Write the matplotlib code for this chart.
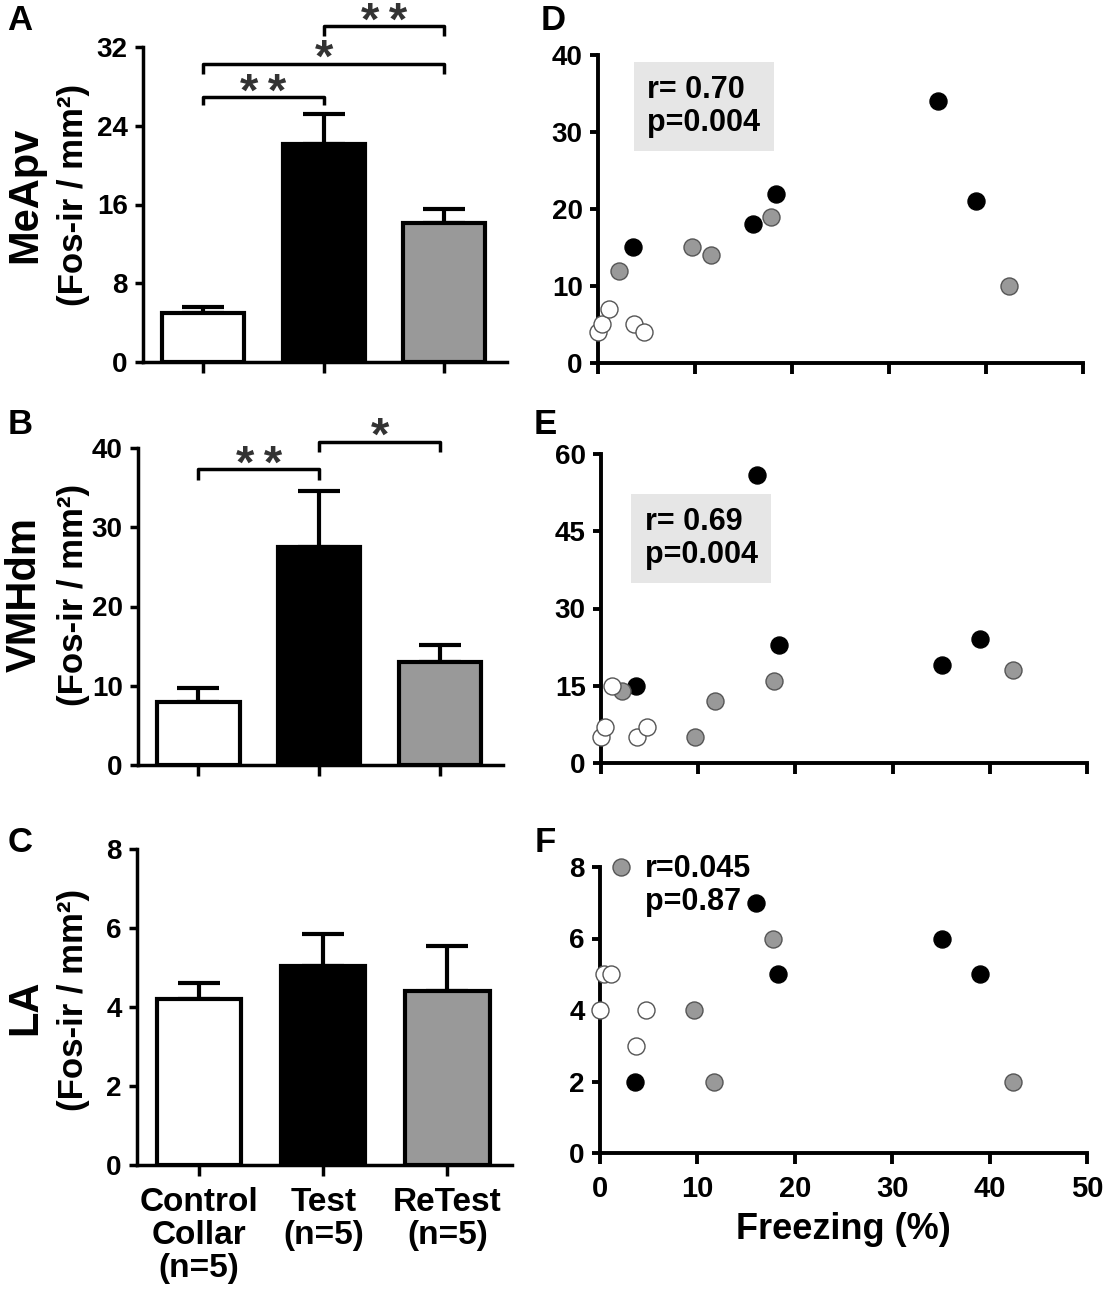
import matplotlib
matplotlib.use("Agg")
import matplotlib.pyplot as plt

plt.rcParams["font.family"] = ["Liberation Sans", "DejaVu Sans"]
plt.rcParams["font.weight"] = "bold"
plt.rcParams["axes.labelweight"] = "bold"

# ==========================================================
# Data
# ==========================================================

groups = ["Control\nCollar\n(n=5)", "Test\n(n=5)", "ReTest\n(n=5)"]
bar_colors = ["white", "black", "#999999"]

mean_meapv = [5.0, 22.1, 14.1]
sem_meapv = [0.6, 3.1, 1.4]
mean_vmhdm = [7.9, 27.5, 13.0]
sem_vmhdm = [1.8, 7.1, 2.2]
mean_la = [4.2, 5.04, 4.4]
sem_la = [0.4, 0.8, 1.15]

# freezing (%) per animal
freeze_ctrl = [0.0, 0.4, 1.1, 3.7, 4.7]
freeze_test = [3.6, 16.0, 18.3, 35.1, 39.0]
freeze_retest = [2.2, 9.7, 11.7, 17.8, 42.4]

meapv_ctrl = [4, 5, 7, 5, 4]
meapv_test = [15, 18, 22, 34, 21]
meapv_retest = [12, 15, 14, 19, 10]

vmhdm_ctrl = [5, 7, 15, 5, 7]
vmhdm_test = [15, 56, 23, 19, 24]
vmhdm_retest = [14, 5, 12, 16, 18]

la_ctrl = [4, 5, 5, 3, 4]
la_test = [2, 7, 5, 6, 5]
la_retest = [8, 4, 2, 6, 2]

W, H = 1110, 1300


def px_axes(fig, left, right, top, bottom):
    return fig.add_axes([left / W, 1 - bottom / H, (right - left) / W, (bottom - top) / H])


def style_axes(ax, lw):
    ax.spines["top"].set_visible(False)
    ax.spines["right"].set_visible(False)
    ax.spines["left"].set_linewidth(lw)
    ax.spines["bottom"].set_linewidth(lw)
    ax.tick_params(width=lw, length=6, labelsize=20, pad=5, direction="out")


def bar_panel(ax, means, sems, ymax, yticks, show_labels):
    x = range(len(means))
    ax.errorbar(x, means, yerr=[[0] * len(means), sems], fmt="none",
                ecolor="black", elinewidth=3, capsize=15, capthick=3, zorder=1)
    ax.bar(x, means, width=0.68, color=bar_colors, edgecolor="black",
           linewidth=3, zorder=2)
    ax.set_xlim(-0.5, 2.52)
    ax.set_ylim(0, ymax)
    ax.set_yticks(yticks)
    ax.set_xticks(list(x))
    style_axes(ax, 2.5)
    ax.tick_params(axis="x", length=8)
    if show_labels:
        ax.set_xticklabels(groups, fontsize=24, linespacing=1.08)
        ax.tick_params(axis="x", pad=8)
    else:
        ax.set_xticklabels([])


def bracket(ax, x1, x2, y, drop, label):
    ax.plot([x1, x1, x2, x2], [y - drop, y, y, y - drop], color="black",
            lw=2.5, clip_on=False, solid_capstyle="butt")
    ax.annotate(label, xy=((x1 + x2) / 2, y), xytext=(0, -6),
                textcoords="offset points", ha="center", va="baseline",
                fontsize=34, color="#333333", annotation_clip=False)


def scatter_panel(ax, ctrl, test, retest, ymax, yticks, show_labels):
    ax.scatter(freeze_test, test, s=150, color="black", edgecolor="black",
               linewidth=1, zorder=3, clip_on=False)
    ax.scatter(freeze_retest, retest, s=150, color="#999999", edgecolor="#555555",
               linewidth=1, zorder=3, clip_on=False)
    ax.scatter(freeze_ctrl, ctrl, s=150, color="white", edgecolor="#555555",
               linewidth=1, zorder=4, clip_on=False)
    ax.set_xlim(0, 50)
    ax.set_ylim(0, ymax)
    ax.set_xticks([0, 10, 20, 30, 40, 50])
    ax.set_yticks(yticks)
    style_axes(ax, 2.8)
    ax.tick_params(axis="x", length=8)
    if show_labels:
        ax.tick_params(axis="x", labelsize=21, pad=8)
        ax.set_xlabel("Freezing (%)", fontsize=26, fontweight="bold", labelpad=6)
    else:
        ax.set_xticklabels([])


fig = plt.figure(figsize=(W / 100, H / 100), dpi=100)

# ==========================================================
# Bar panels A, B, C
# ==========================================================

two_stars = "*\u2009*"

ax_a = px_axes(fig, 143, 507, 47, 362)
bar_panel(ax_a, mean_meapv, sem_meapv, 32, [0, 8, 16, 24, 32], False)
bracket(ax_a, 0, 1, 26.9, 0.8, two_stars)
bracket(ax_a, 0, 2, 30.3, 1.0, "*")
bracket(ax_a, 1, 2, 34.1, 1.0, two_stars)

ax_b = px_axes(fig, 138, 503, 448, 765)
bar_panel(ax_b, mean_vmhdm, sem_vmhdm, 40, [0, 10, 20, 30, 40], False)
bracket(ax_b, 0, 1, 37.3, 1.3, two_stars)
bracket(ax_b, 1, 2, 40.8, 1.3, "*")

ax_c = px_axes(fig, 137, 512, 849, 1165)
bar_panel(ax_c, mean_la, sem_la, 8, [0, 2, 4, 6, 8], True)

# y labels (region + unit)
for name, ymid in [("MeApv", 195), ("VMHdm", 595), ("LA", 1007)]:
    fig.text(25 / W, 1 - ymid / H, name, rotation=90, ha="center",
             va="center", fontsize=30)
for ymid in [195, 595, 1000]:
    fig.text(73 / W, 1 - ymid / H, "(Fos-ir / mm\u00b2)", rotation=90,
             ha="center", va="center", fontsize=25)

# ==========================================================
# Scatter panels D, E, F
# ==========================================================

ax_d = px_axes(fig, 598, 1083, 55, 363)
scatter_panel(ax_d, meapv_ctrl, meapv_test, meapv_retest, 40,
              [0, 10, 20, 30, 40], False)
ax_d.text(5.1, 33.3, "r= 0.70\np=0.004", ha="left", va="center", fontsize=22,
          linespacing=1.1,
          bbox=dict(boxstyle="square,pad=0.45", facecolor="#e6e6e6",
                    edgecolor="none"))

ax_e = px_axes(fig, 601, 1087, 454, 763)
scatter_panel(ax_e, vmhdm_ctrl, vmhdm_test, vmhdm_retest, 60,
              [0, 15, 30, 45, 60], False)
ax_e.text(4.5, 43.6, "r= 0.69\np=0.004", ha="left", va="center", fontsize=22,
          linespacing=1.1,
          bbox=dict(boxstyle="square,pad=0.45", facecolor="#e6e6e6",
                    edgecolor="none"))

ax_f = px_axes(fig, 600, 1087, 867, 1153)
scatter_panel(ax_f, la_ctrl, la_test, la_retest, 8, [0, 2, 4, 6, 8], True)
ax_f.text(4.6, 7.48, "r=0.045\np=0.87", ha="left", va="center", fontsize=22,
          linespacing=1.1)

# panel letters
for letter, x, y in [("A", 20, 20), ("B", 20, 425), ("C", 20, 842),
                     ("D", 553, 20), ("E", 545, 425), ("F", 545, 842)]:
    fig.text(x / W, 1 - y / H, letter, ha="center", va="center", fontsize=25)

plt.savefig("out.png", dpi=100)
